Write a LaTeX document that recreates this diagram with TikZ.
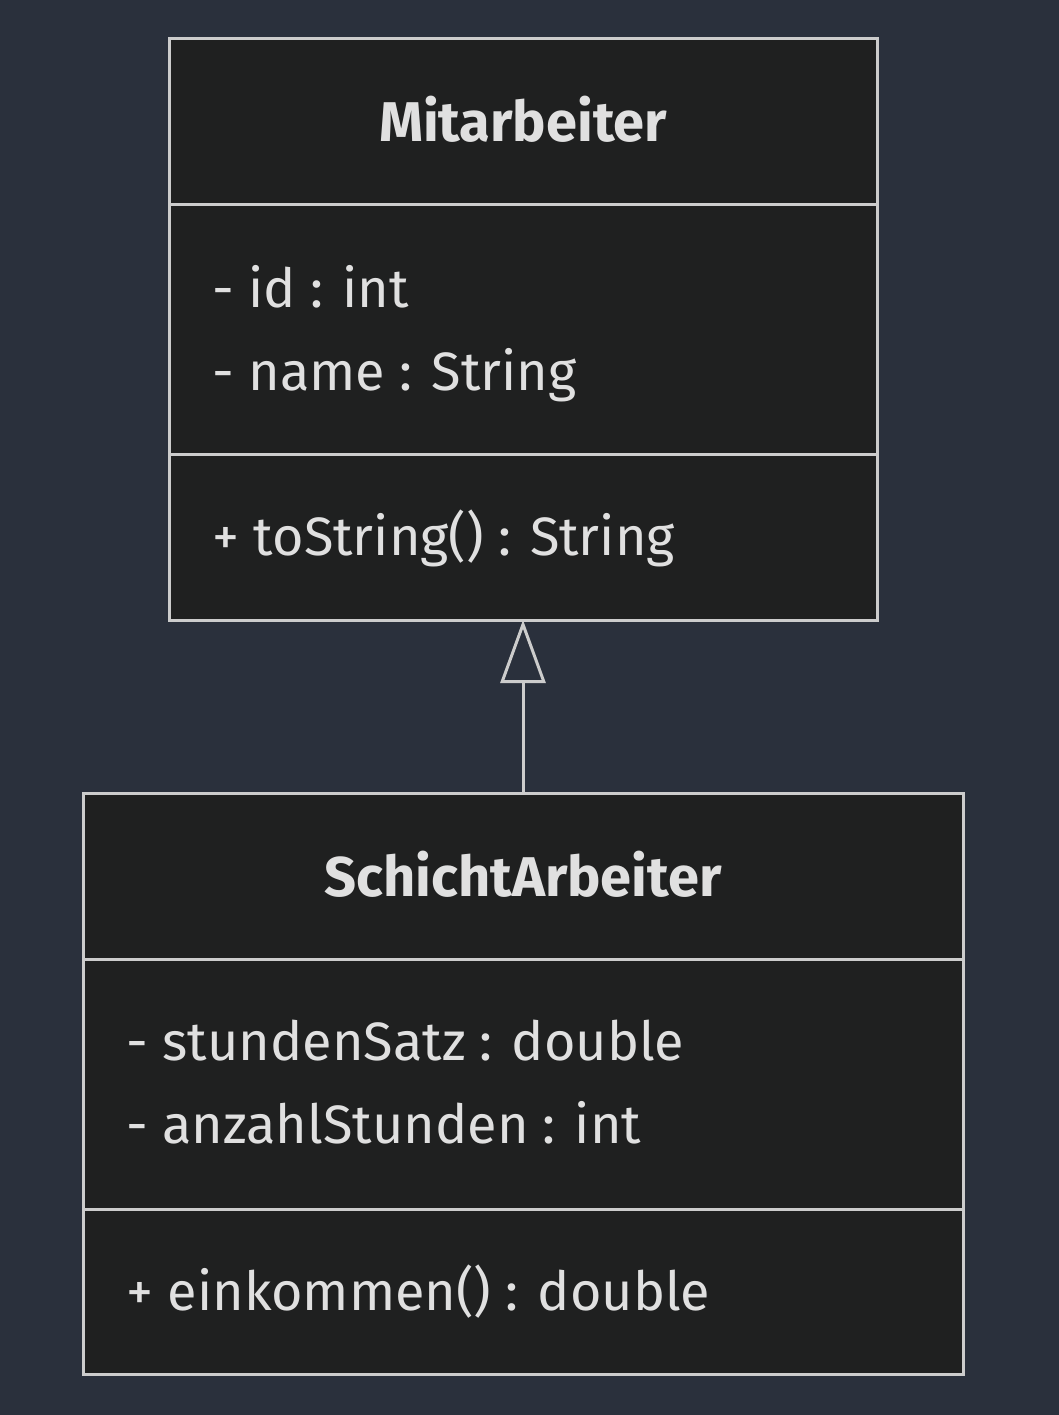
\documentclass[tikz,border=0pt]{standalone}
\usepackage{fontspec}
\setmainfont{Fira Sans}
\usetikzlibrary{positioning,arrows.meta}
\definecolor{bgcol}{HTML}{2A303C}
\definecolor{boxfill}{HTML}{1F2020}
\definecolor{boxline}{HTML}{CCCCCC}
\definecolor{txtcol}{HTML}{E0E0E0}

\begin{document}
\begin{tikzpicture}[x=1pt, y=1pt,
        part/.style={draw=boxline, fill=boxfill, line width=3pt, rectangle, inner sep=0pt, outer sep=0pt, minimum height=166pt},
        title/.style={font=\fontsize{56}{66}\selectfont\bfseries, text=txtcol, anchor=base},
        member/.style={font=\fontsize{54}{64}\selectfont, text=txtcol, anchor=base west},
        >={Triangle[open, length=63pt, width=45pt]}
    ]
        \fill[bgcol] (0,0) rectangle (1059,-1415);
        \useasboundingbox (0,0) rectangle (1059,-1415);

        % Mitarbeiter
        \node [part, minimum width=708pt, anchor=north west] (mit) at (169,-39) {};
        \node [part, minimum width=708pt, minimum height=249pt, below=0pt of mit] (mitattr) {};
        \node [part, minimum width=708pt, below=0pt of mitattr] (mitmeth) {};
        \node [title] (mitname) at ([yshift=-103pt]mit.north) {Mitarbeiter};
        \node [member] (mitid) at ([xshift=40pt, yshift=-102pt]mitattr.north west) {- id : int};
        \node [member] (mitnm) at ([xshift=40pt, yshift=-185pt]mitattr.north west) {- name : String};
        \node [member] (mitstr) at ([xshift=40pt, yshift=-101pt]mitmeth.north west) {+ toString() : String};

        % SchichtArbeiter
        \node [part, minimum width=880pt, anchor=north west] (schicht) at (83,-793) {};
        \node [part, minimum width=880pt, minimum height=250pt, below=0pt of schicht] (schichtattr) {};
        \node [part, minimum width=880pt, minimum height=165pt, below=0pt of schichtattr] (schichtmeth) {};
        \node [title] (schichtname) at ([yshift=-103pt]schicht.north) {SchichtArbeiter};
        \node [member] (schichtsatz) at ([xshift=40pt, yshift=-101pt]schichtattr.north west) {- stundenSatz : double};
        \node [member] (schichtanz) at ([xshift=40pt, yshift=-184pt]schichtattr.north west) {- anzahlStunden : int};
        \node [member] (schichtek) at ([xshift=40pt, yshift=-101pt]schichtmeth.north west) {+ einkommen() : double};

        \draw [->, draw=boxline, line width=3pt] (schicht.north) -- (mitmeth.south);
    \end{tikzpicture}
\end{document}
